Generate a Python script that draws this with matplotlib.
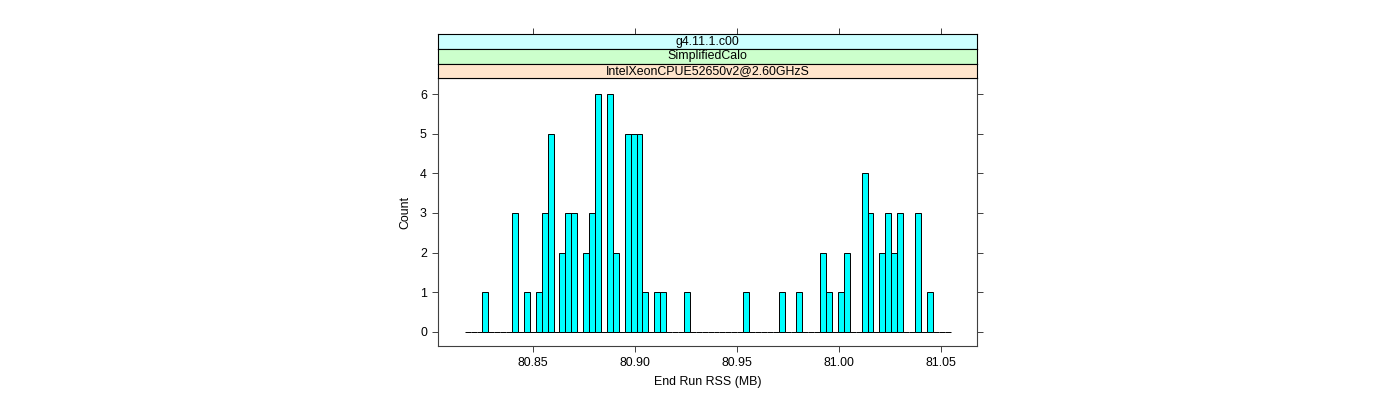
#!/usr/bin/env python3
"""Lattice-style histogram of end run RSS, redrawn with matplotlib."""

import numpy as np
import matplotlib
matplotlib.use('Agg')
import matplotlib.pyplot as plt


# histogram breaks (MB) and counts per bin
hist_start = 80.8165
hist_end = 81.0549
counts = [
    0, 0, 0, 1, 0, 0, 0, 0, 3, 0,
    1, 0, 1, 3, 5, 0, 2, 3, 3, 0,
    2, 3, 6, 0, 6, 2, 0, 5, 5, 5,
    1, 0, 1, 1, 0, 0, 0, 1, 0, 0,
    0, 0, 0, 0, 0, 0, 0, 1, 0, 0,
    0, 0, 0, 1, 0, 0, 1, 0, 0, 0,
    2, 1, 0, 1, 2, 0, 0, 4, 3, 0,
    2, 3, 2, 3, 0, 0, 3, 0, 1, 0,
    0, 0,
]
x_ticks = [80.85, 80.90, 80.95, 81.00, 81.05]
x_tick_labels = ['80.85', '80.90', '80.95', '81.00', '81.05']
y_ticks = [0, 1, 2, 3, 4, 5, 6]
strips = ['g4.11.1.c00', 'SimplifiedCalo', 'IntelXeonCPUE52650v2@2.60GHzS']
strip_colors = ['#ccffff', '#ccffcc', '#ffe5cc']

plt.rcParams['font.family'] = ['Liberation Sans', 'DejaVu Sans']
plt.rcParams['font.size'] = 8.9

W, H = 1400, 400
XLIM = (80.8034, 81.0679)
YLIM = (-0.36, 6.40)
FRAME = '#404040'


def fx(px):
    return px / W


def fy(py):
    return 1 - py / H


fig = plt.figure(figsize=(14, 4), dpi=100)

left, right = 438, 977
panel_top, panel_bottom = 78.3, 346
ax = fig.add_axes([fx(left), fy(panel_bottom), fx(right - left), (panel_bottom - panel_top) / H])

edges = np.linspace(hist_start, hist_end, len(counts) + 1)
ax.bar(edges[:-1], counts, width=np.diff(edges), align='edge',
       color='#00ffff', edgecolor='black', linewidth=0.7)

ax.set_xlim(XLIM)
ax.set_ylim(YLIM)
ax.set_xticks(x_ticks)
ax.set_xticklabels(x_tick_labels)
ax.set_yticks(y_ticks)
ax.tick_params(axis='both', direction='out', length=4.5, width=0.7, colors=FRAME,
               labelcolor='black', pad=3.5)
ax.tick_params(axis='y', right=True, labelright=False)
for spine in ax.spines.values():
    spine.set_color(FRAME)
    spine.set_linewidth(0.8)
ax.set_xlabel('End Run RSS (MB)', labelpad=5)
ax.set_ylabel('Count', labelpad=6)

# strips, outermost conditioning variable at the bottom
strip_edges = [34.3, 49.3, 63.7, 78.3]
for i, (label, color) in enumerate(zip(strips, strip_colors)):
    top, bottom = strip_edges[i], strip_edges[i + 1]
    sax = fig.add_axes([fx(left), fy(bottom), fx(right - left), (bottom - top) / H])
    sax.set_facecolor(color)
    sax.set_xlim(XLIM)
    sax.set_ylim(0, 1)
    sax.set_yticks([])
    if i == 0:
        sax.set_xticks(x_ticks)
        sax.tick_params(axis='x', top=True, bottom=False, labeltop=False, labelbottom=False,
                        direction='out', length=4.5, width=0.7, colors=FRAME)
    else:
        sax.set_xticks([])
    for spine in sax.spines.values():
        spine.set_color('black')
        spine.set_linewidth(0.8)
    sax.text(0.5, 0.5, label, transform=sax.transAxes, ha='center', va='center', fontsize=8.9)

fig.savefig('out.png', dpi=100)
